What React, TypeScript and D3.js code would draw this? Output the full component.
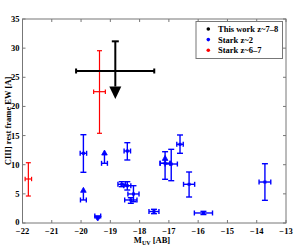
import React from "react";
import * as d3 from "d3";

// ---- data ----
const xTicks = [-22, -21, -20, -19, -18, -17, -16, -15, -14, -13];
const yTicks = [0, 5, 10, 15, 20, 25, 30, 35];

// Stark z~2 (blue) with error bars
const blueM = [-19.92, -18.42, -18.61, -18.42, -18.21, -18.30, -17.51, -17.13, -16.92, -16.62, -16.31, -15.82, -13.72];
const blueMerr = [0.11, 0.11, 0.13, 0.12, 0.19, 0.21, 0.17, 0.17, 0.21, 0.11, 0.19, 0.31, 0.2];
const blueEW = [11.96, 12.35, 6.64, 6.40, 4.98, 3.95, 1.97, 10.24, 10.12, 13.50, 6.64, 1.72, 7.03];
const blueEWlo = [8.70, 10.81, 6.23, 5.66, 3.65, 3.38, 1.6, 7.50, 7.26, 11.96, 4.46, 1.45, 3.89];
const blueEWhi = [15.15, 13.78, 7.09, 7.09, 6.40, 4.34, 2.35, 12.23, 12.64, 15.10, 8.75, 2.0, 10.17];

// Stark z~2 limits
const blueLimM = [-19.92, -19.20, -17.13, -19.43];
const blueLimEW = [3.95, 10.24, 10.24, 1.2];
const blueLimTip = [6.12, 12.52, 11.6, 0.34];
const blueLimMerr = [0.1, 0.1, 0.17, 0.1];

// Stark z~6-7 (red)
const redM = [-19.37, -21.80];
const redMerr = [0.2, 0.11];
const redEW = [22.53, 7.55];
const redEWlo = [15.39, 4.63];
const redEWhi = [29.56, 10.34];

// This work z~7-8 (black)
const blackM = [-18.83];
const blackMlo = [-20.17];
const blackMhi = [-17.50];
const blackEW = [26.08];
const blackEWhi = [31.17];
const blackTip = [21.27];

const legendLabels = ["This work z~7\u20138", "Stark z~2", "Stark z~6\u20137"];
const legendColors = ["#000000", "#0000ff", "#ff0000"];

const W = 299, H = 252;
const FONT = "'Liberation Serif', 'Times New Roman', serif";

export default function App() {
  const x = d3.scaleLinear().domain([-22, -13]).range([22.5, 286]);
  const y = d3.scaleLinear().domain([0, 35]).range([223, 19]);
  const [x0, x1] = x.range();
  const [y0, y1] = y.range();

  const fmt = (v: number) => String(v).replace("-", "\u2212");

  const errBar = (
    key: string, cx: number, mlo: number, mhi: number, cy: number, elo: number, ehi: number,
    color: string, sw: number, capV: number, capH: number
  ) => (
    <g key={key} stroke={color} strokeWidth={sw} fill="none">
      <line x1={x(cx)} x2={x(cx)} y1={y(elo)} y2={y(ehi)} />
      <line x1={x(cx) - capV} x2={x(cx) + capV} y1={y(elo)} y2={y(elo)} />
      <line x1={x(cx) - capV} x2={x(cx) + capV} y1={y(ehi)} y2={y(ehi)} />
      <line x1={x(mlo)} x2={x(mhi)} y1={y(cy)} y2={y(cy)} />
      <line x1={x(mlo)} x2={x(mlo)} y1={y(cy) - capH} y2={y(cy) + capH} />
      <line x1={x(mhi)} x2={x(mhi)} y1={y(cy) - capH} y2={y(cy) + capH} />
    </g>
  );

  return (
    <div style={{ position: "absolute", left: 0, top: 0 }}>
      <svg width={W} height={H} style={{ display: "block", background: "#fff" }} fontFamily={FONT}>
        {/* frame */}
        <rect x={x0} y={y1} width={x1 - x0} height={y0 - y1} fill="none" stroke="#777" strokeWidth={1} />
        {/* ticks */}
        {xTicks.map((t) => (
          <g key={"xt" + t} stroke="#777" strokeWidth={1}>
            <line x1={x(t)} x2={x(t)} y1={y0} y2={y0 - 3} />
            <line x1={x(t)} x2={x(t)} y1={y1} y2={y1 + 3} />
          </g>
        ))}
        {yTicks.map((t) => (
          <g key={"yt" + t} stroke="#777" strokeWidth={1}>
            <line x1={x0} x2={x0 + 3} y1={y(t)} y2={y(t)} />
            <line x1={x1} x2={x1 - 3} y1={y(t)} y2={y(t)} />
          </g>
        ))}
        {xTicks.map((t) => (
          <text key={"xl" + t} x={x(t)} y={233.5} textAnchor="middle" fontSize={8.5} fontWeight="bold" fill="#000">
            {fmt(t)}
          </text>
        ))}
        {yTicks.map((t) => (
          <text key={"yl" + t} x={19.5} y={y(t) + (t === 0 ? 1.5 : 3)} textAnchor="end" fontSize={8.5} fontWeight="bold" fill="#000">
            {fmt(t)}
          </text>
        ))}
        {/* axis labels */}
        <text x={152} y={243} textAnchor="middle" fontSize={8.5} fontWeight="bold" fill="#000">
          M<tspan fontSize={6} dy={2}>UV</tspan>
          <tspan dy={-2}> [AB]</tspan>
        </text>
        <text
          transform={`translate(10.5, ${(y0 + y1) / 2}) rotate(-90)`}
          textAnchor="middle"
          fontSize={8.5}
          fontWeight="bold"
          fill="#000"
        >
          CIII] rest frame EW [A]
        </text>

        {/* blue error bars */}
        {blueM.map((m, i) =>
          errBar("b" + i, m, m - blueMerr[i], m + blueMerr[i], blueEW[i], blueEWlo[i], blueEWhi[i], "#0000ff", 1.4, 3, 2.5)
        )}
        {blueM.map((m, i) => (
          <rect key={"bm" + i} x={x(m) - 1.5} y={y(blueEW[i]) - 1.5} width={3} height={3} fill="#0000ff" />
        ))}
        {/* blue limits */}
        {blueLimM.map((m, i) => {
          const cx = x(m);
          const cy = y(blueLimEW[i]);
          const ty = y(blueLimTip[i]);
          const up = ty < cy;
          const ah = 5;
          const base = up ? ty + ah : ty - ah;
          const hw = up ? 2.8 : 3.5;
          return (
            <g key={"bl" + i}>
              <g stroke="#0000ff" strokeWidth={1.4}>
                <line x1={x(m - blueLimMerr[i])} x2={x(m + blueLimMerr[i])} y1={cy} y2={cy} />
                <line x1={x(m - blueLimMerr[i])} x2={x(m - blueLimMerr[i])} y1={cy - 2.5} y2={cy + 2.5} />
                <line x1={x(m + blueLimMerr[i])} x2={x(m + blueLimMerr[i])} y1={cy - 2.5} y2={cy + 2.5} />
                <line x1={cx} x2={cx} y1={cy} y2={base} />
              </g>
              <path d={`M${cx - hw},${base} L${cx + hw},${base} L${cx},${ty} Z`} fill="#0000ff" stroke="#0000ff" strokeWidth={0.8} />
            </g>
          );
        })}

        {/* red */}
        {redM.map((m, i) =>
          errBar("r" + i, m, m - redMerr[i], m + redMerr[i], redEW[i], redEWlo[i], redEWhi[i], "#ff0000", 1.2, 2.5, 2.2)
        )}

        {/* black: this work */}
        {blackM.map((m, i) => {
          const cx = x(m);
          const cy = y(blackEW[i]);
          const ty = y(blackTip[i]);
          const base = ty - 12.5;
          return (
            <g key={"k" + i}>
              <g stroke="#000" strokeWidth={2}>
                <line x1={x(blackMlo[i])} x2={x(blackMhi[i])} y1={cy} y2={cy} />
                <line x1={x(blackMlo[i])} x2={x(blackMlo[i])} y1={cy - 2.5} y2={cy + 2.5} />
                <line x1={x(blackMhi[i])} x2={x(blackMhi[i])} y1={cy - 2.5} y2={cy + 2.5} />
                <line x1={cx} x2={cx} y1={y(blackEWhi[i])} y2={base} />
                <line x1={cx - 3.5} x2={cx + 3.5} y1={y(blackEWhi[i])} y2={y(blackEWhi[i])} />
              </g>
              <path d={`M${cx - 6},${base} L${cx + 6},${base} L${cx},${ty} Z`} fill="#000" />
            </g>
          );
        })}

        {/* legend */}
        <rect x={196} y={21.5} width={86.5} height={37} fill="#fff" stroke="#777" strokeWidth={1} />
        {legendLabels.map((l, i) => (
          <g key={"lg" + i}>
            <circle cx={208.3} cy={29 + i * 10.6} r={1.8} fill={legendColors[i]} />
            <text x={218} y={29 + i * 10.6 + 3} fontSize={8.5} fontWeight="bold" fill="#000">
              {l}
            </text>
          </g>
        ))}
      </svg>
    </div>
  );
}
